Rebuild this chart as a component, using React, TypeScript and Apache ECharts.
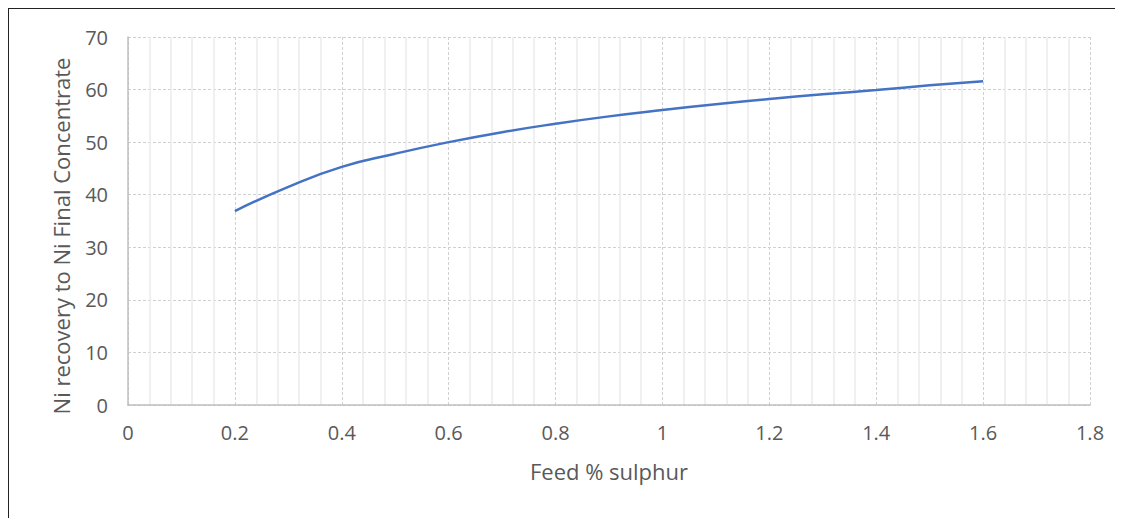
import React, { useEffect, useRef } from "react";
import * as echarts from "echarts";

const feedSulphur = [0.2, 0.3, 0.4, 0.5, 0.6, 0.7, 0.8, 0.9, 1.0, 1.1, 1.2, 1.3, 1.4, 1.5, 1.6];
const niRecovery = [36.9, 41.5, 45.3, 47.8, 50.0, 51.9, 53.5, 54.9, 56.1, 57.2, 58.2, 59.1, 59.9, 60.8, 61.6];
const xTicks = { min: 0, max: 1.8, interval: 0.2 };
const yTicks = { min: 0, max: 70, interval: 10 };
const xTitle = "Feed % sulphur";
const yTitle = "Ni recovery to Ni Final Concentrate";

export default function App() {
  const ref = useRef<HTMLDivElement>(null);
  useEffect(() => {
    document.body.style.overflow = "hidden";
    if (!ref.current) return;
    const chart = echarts.init(ref.current, undefined, { renderer: "svg" });
    const font = "'Open Sans', sans-serif";
    chart.setOption({
      animation: false,
      backgroundColor: "#ffffff",
      grid: { left: 119, right: 57, top: 28, bottom: 113 },
      xAxis: {
        type: "value",
        min: xTicks.min,
        max: xTicks.max,
        interval: xTicks.interval,
        name: xTitle,
        nameLocation: "middle",
        nameGap: 55,
        nameTextStyle: { color: "#595959", fontSize: 22, fontFamily: font },
        axisLine: { show: true, lineStyle: { color: "#bfbfbf", width: 1.5 } },
        axisTick: { show: false },
        axisLabel: {
          color: "#595959",
          fontSize: 20,
          fontFamily: font,
          margin: 17,
          formatter: (v: number) => String(Math.round(v * 10) / 10),
        },
        splitLine: { show: true, lineStyle: { color: "#d0d0d0", type: [3, 2], width: 1 } },
        minorTick: { show: false, splitNumber: 5 },
        minorSplitLine: { show: true, lineStyle: { color: "#ebebeb", width: 1.5 } },
      },
      yAxis: {
        type: "value",
        min: yTicks.min,
        max: yTicks.max,
        interval: yTicks.interval,
        name: yTitle,
        nameLocation: "middle",
        nameGap: 56,
        nameRotate: 90,
        nameTextStyle: { color: "#595959", fontSize: 22, fontFamily: font, padding: [0, 30, 0, 0] },
        axisLine: { show: true, lineStyle: { color: "#bfbfbf", width: 1.5 } },
        axisTick: { show: false },
        axisLabel: { color: "#595959", fontSize: 20, fontFamily: font, margin: 20 },
        splitLine: { show: true, lineStyle: { color: "#d0d0d0", type: [3, 2], width: 1 } },
      },
      series: [
        {
          type: "line",
          data: feedSulphur.map((x, i) => [x, niRecovery[i]]),
          smooth: true,
          showSymbol: false,
          lineStyle: { color: "#4472C4", width: 2.5 },
        },
      ],
    });
    return () => chart.dispose();
  }, []);
  return (
    <div
      style={{
        width: 1139,
        height: 530,
        boxSizing: "border-box",
        borderLeft: "1px solid #222",
        borderTop: "1px solid #222",
      }}
    >
      <div ref={ref} style={{ width: 1138, height: 509 }} />
    </div>
  );
}
